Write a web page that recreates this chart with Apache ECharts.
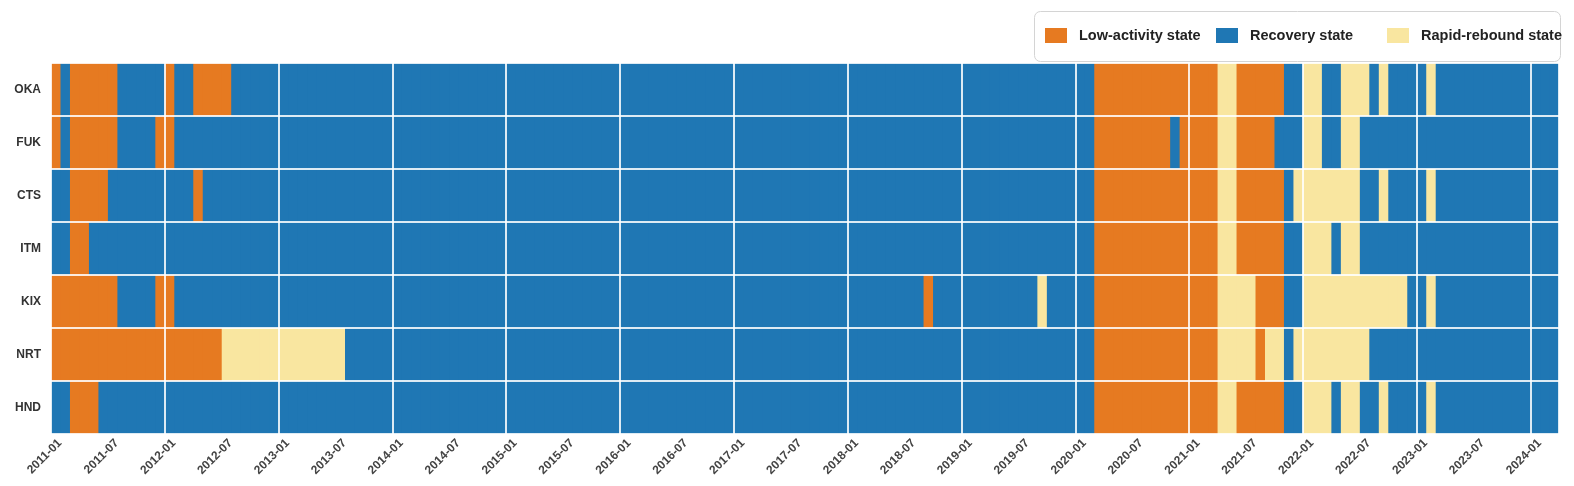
<!DOCTYPE html>
<html><head><meta charset="utf-8">
<script src="https://cdn.jsdelivr.net/npm/echarts@6/dist/echarts.min.js"></script>
<style>html,body{margin:0;padding:0;background:#fff}#c{width:1574px;height:486px}</style>
</head><body><div id="c"></div>
<script>
// State codes: 0 = Low-activity, 1 = Recovery, 2 = Rapid-rebound
const airports = ['OKA','FUK','CTS','ITM','KIX','NRT','HND'];
const stateNames = ['Low-activity state','Recovery state','Rapid-rebound state'];
const stateColors = ['#e67a21','#1f77b4','#f9e6a0'];

// Monthly categories 2011-01 .. 2024-03
const months = [];
for (let y = 2011; y <= 2024; y++) {
  for (let m = 1; m <= 12; m++) {
    if (y === 2024 && m > 3) break;
    months.push(y + '-' + String(m).padStart(2, '0'));
  }
}

const OKA = [
  0,1,0,0,0,0,0,1,1,1,1,1, // 2011
  0,1,1,0,0,0,0,1,1,1,1,1, // 2012
  1,1,1,1,1,1,1,1,1,1,1,1, // 2013
  1,1,1,1,1,1,1,1,1,1,1,1, // 2014
  1,1,1,1,1,1,1,1,1,1,1,1, // 2015
  1,1,1,1,1,1,1,1,1,1,1,1, // 2016
  1,1,1,1,1,1,1,1,1,1,1,1, // 2017
  1,1,1,1,1,1,1,1,1,1,1,1, // 2018
  1,1,1,1,1,1,1,1,1,1,1,1, // 2019
  1,1,0,0,0,0,0,0,0,0,0,0, // 2020
  0,0,0,2,2,0,0,0,0,0,1,1, // 2021
  2,2,1,1,2,2,2,1,2,1,1,1, // 2022
  1,2,1,1,1,1,1,1,1,1,1,1, // 2023
  1,1,1                    // 2024
];
const FUK = [
  0,1,0,0,0,0,0,1,1,1,1,0,
  0,1,1,1,1,1,1,1,1,1,1,1,
  1,1,1,1,1,1,1,1,1,1,1,1,
  1,1,1,1,1,1,1,1,1,1,1,1,
  1,1,1,1,1,1,1,1,1,1,1,1,
  1,1,1,1,1,1,1,1,1,1,1,1,
  1,1,1,1,1,1,1,1,1,1,1,1,
  1,1,1,1,1,1,1,1,1,1,1,1,
  1,1,1,1,1,1,1,1,1,1,1,1,
  1,1,0,0,0,0,0,0,0,0,1,0,
  0,0,0,2,2,0,0,0,0,1,1,1,
  2,2,1,1,2,2,1,1,1,1,1,1,
  1,1,1,1,1,1,1,1,1,1,1,1,
  1,1,1
];
const CTS = [
  1,1,0,0,0,0,1,1,1,1,1,1,
  1,1,1,0,1,1,1,1,1,1,1,1,
  1,1,1,1,1,1,1,1,1,1,1,1,
  1,1,1,1,1,1,1,1,1,1,1,1,
  1,1,1,1,1,1,1,1,1,1,1,1,
  1,1,1,1,1,1,1,1,1,1,1,1,
  1,1,1,1,1,1,1,1,1,1,1,1,
  1,1,1,1,1,1,1,1,1,1,1,1,
  1,1,1,1,1,1,1,1,1,1,1,1,
  1,1,0,0,0,0,0,0,0,0,0,0,
  0,0,0,2,2,0,0,0,0,0,1,2,
  2,2,2,2,2,2,1,1,2,1,1,1,
  1,2,1,1,1,1,1,1,1,1,1,1,
  1,1,1
];
const ITM = [
  1,1,0,0,1,1,1,1,1,1,1,1,
  1,1,1,1,1,1,1,1,1,1,1,1,
  1,1,1,1,1,1,1,1,1,1,1,1,
  1,1,1,1,1,1,1,1,1,1,1,1,
  1,1,1,1,1,1,1,1,1,1,1,1,
  1,1,1,1,1,1,1,1,1,1,1,1,
  1,1,1,1,1,1,1,1,1,1,1,1,
  1,1,1,1,1,1,1,1,1,1,1,1,
  1,1,1,1,1,1,1,1,1,1,1,1,
  1,1,0,0,0,0,0,0,0,0,0,0,
  0,0,0,2,2,0,0,0,0,0,1,1,
  2,2,2,1,2,2,1,1,1,1,1,1,
  1,1,1,1,1,1,1,1,1,1,1,1,
  1,1,1
];
const KIX = [
  0,0,0,0,0,0,0,1,1,1,1,0,
  0,1,1,1,1,1,1,1,1,1,1,1,
  1,1,1,1,1,1,1,1,1,1,1,1,
  1,1,1,1,1,1,1,1,1,1,1,1,
  1,1,1,1,1,1,1,1,1,1,1,1,
  1,1,1,1,1,1,1,1,1,1,1,1,
  1,1,1,1,1,1,1,1,1,1,1,1,
  1,1,1,1,1,1,1,1,0,1,1,1,
  1,1,1,1,1,1,1,1,2,1,1,1,
  1,1,0,0,0,0,0,0,0,0,0,0,
  0,0,0,2,2,2,2,0,0,0,1,1,
  2,2,2,2,2,2,2,2,2,2,2,1,
  1,2,1,1,1,1,1,1,1,1,1,1,
  1,1,1
];
const NRT = [
  0,0,0,0,0,0,0,0,0,0,0,0,
  0,0,0,0,0,0,2,2,2,2,2,2,
  2,2,2,2,2,2,2,1,1,1,1,1,
  1,1,1,1,1,1,1,1,1,1,1,1,
  1,1,1,1,1,1,1,1,1,1,1,1,
  1,1,1,1,1,1,1,1,1,1,1,1,
  1,1,1,1,1,1,1,1,1,1,1,1,
  1,1,1,1,1,1,1,1,1,1,1,1,
  1,1,1,1,1,1,1,1,1,1,1,1,
  1,1,0,0,0,0,0,0,0,0,0,0,
  0,0,0,2,2,2,2,0,2,2,1,2,
  2,2,2,2,2,2,2,1,1,1,1,1,
  1,1,1,1,1,1,1,1,1,1,1,1,
  1,1,1
];
const HND = [
  1,1,0,0,0,1,1,1,1,1,1,1,
  1,1,1,1,1,1,1,1,1,1,1,1,
  1,1,1,1,1,1,1,1,1,1,1,1,
  1,1,1,1,1,1,1,1,1,1,1,1,
  1,1,1,1,1,1,1,1,1,1,1,1,
  1,1,1,1,1,1,1,1,1,1,1,1,
  1,1,1,1,1,1,1,1,1,1,1,1,
  1,1,1,1,1,1,1,1,1,1,1,1,
  1,1,1,1,1,1,1,1,1,1,1,1,
  1,1,0,0,0,0,0,0,0,0,0,0,
  0,0,0,2,2,0,0,0,0,0,1,1,
  2,2,2,1,2,2,1,1,2,1,1,1,
  1,2,1,1,1,1,1,1,1,1,1,1,
  1,1,1
];

const rows = {OKA, FUK, CTS, ITM, KIX, NRT, HND};
const cellData = [];
airports.forEach((a, yi) => {
  rows[a].forEach((v, xi) => cellData.push([xi, yi, v]));
});

const FONT = 'Liberation Sans, Arial, sans-serif';
const gridLine = {color: 'rgba(255,255,255,0.85)', width: 2};

function renderCell(params, api) {
  const x = api.value(0), y = api.value(1), v = api.value(2);
  const c = api.coord([x, y]);
  const s = api.size([1, 1]);
  const last = x === months.length - 1;
  return {
    type: 'rect',
    shape: {x: c[0] - s[0] / 2, y: c[1] - s[1] / 2, width: s[0] + (last ? 0 : 1), height: s[1]},
    style: {fill: stateColors[v]}
  };
}

const legendBase = {
  top: 28, orient: 'horizontal', icon: 'rect',
  itemWidth: 22, itemHeight: 15, padding: 0,
  selectedMode: false,
  textStyle: {fontFamily: FONT, fontWeight: 'bold', fontSize: 14.5, color: '#222', padding: [0, 0, 0, 7]}
};
const legendLefts = [1045, 1216, 1387];

const chart = echarts.init(document.getElementById('c'));
chart.setOption({
  animation: false,
  backgroundColor: '#fff',
  grid: {left: 51, right: 15, top: 63, bottom: 52},
  graphic: [{
    type: 'rect', left: 1034, top: 11, z: 0, silent: true,
    shape: {width: 526, height: 50, r: 6},
    style: {fill: '#fff', stroke: '#d4d4d4', lineWidth: 1}
  }],
  legend: stateNames.map((n, i) => Object.assign({}, legendBase, {left: legendLefts[i], data: [n], z: 5})),
  xAxis: {
    type: 'category', data: months, z: 5,
    axisLine: {show: false}, axisTick: {show: false},
    axisLabel: {
      interval: (i) => i % 6 === 0,
      rotate: 45, align: 'right', verticalAlign: 'top', margin: 3,
      fontFamily: FONT, fontWeight: 'bold', fontSize: 12, color: '#444'
    },
    splitLine: {show: true, interval: (i) => i % 12 === 0, lineStyle: gridLine}
  },
  yAxis: {
    type: 'category', data: airports, inverse: true, z: 5,
    axisLine: {show: false}, axisTick: {show: false},
    axisLabel: {margin: 10, fontFamily: FONT, fontWeight: 'bold', fontSize: 12, color: '#333'},
    splitLine: {show: true, interval: 0, lineStyle: gridLine}
  },
  series: [
    {type: 'custom', data: cellData, renderItem: renderCell, encode: {x: 0, y: 1}, z: 2, silent: true},
    {name: stateNames[0], type: 'bar', data: [], itemStyle: {color: stateColors[0]}},
    {name: stateNames[1], type: 'bar', data: [], itemStyle: {color: stateColors[1]}},
    {name: stateNames[2], type: 'bar', data: [], itemStyle: {color: stateColors[2]}}
  ]
});
</script></body></html>
